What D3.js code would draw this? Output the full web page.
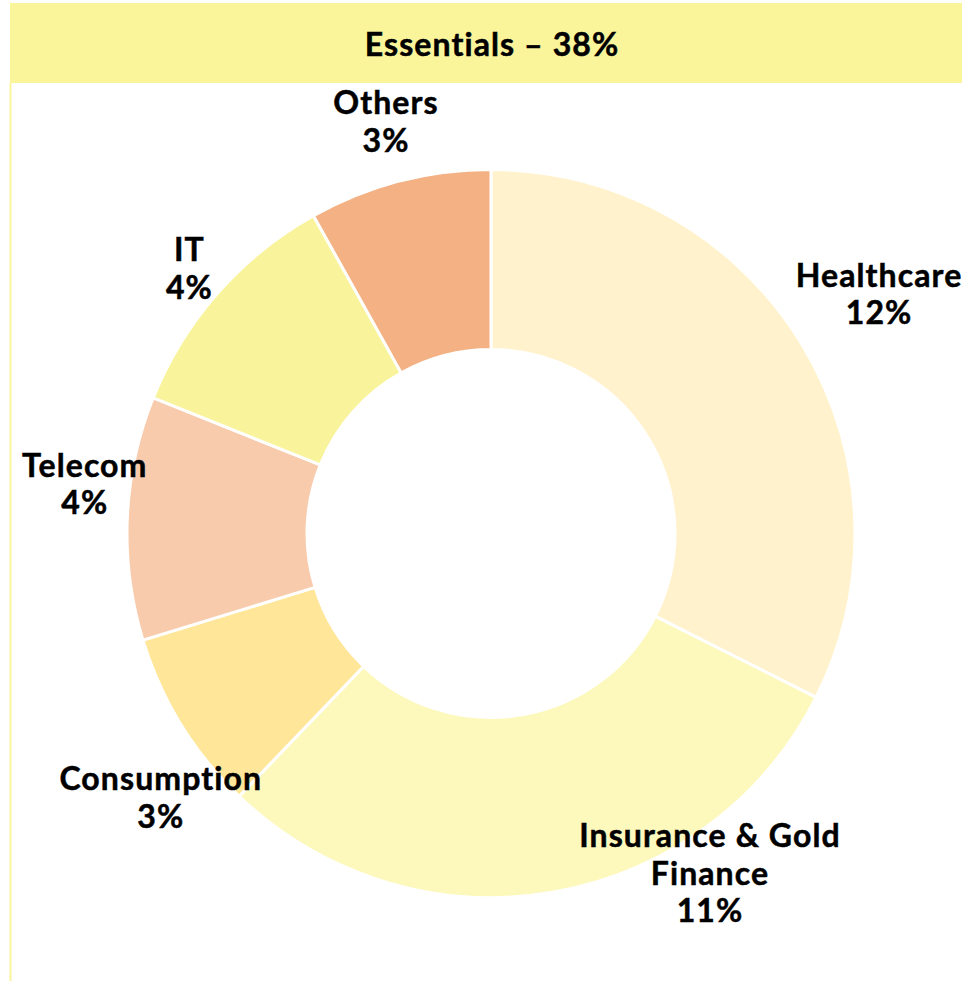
<html>
<head>
  <script src="https://d3js.org/d3.v7.min.js"></script>
  <style>
    body{ margin:0; background:#fff; }
    svg{ display:block; font-family: Lato, "Open Sans", sans-serif; font-weight:700; }
    svg text{ font-size:32px; letter-spacing:1.1px; font-variant-ligatures:none; font-feature-settings:"liga" 0; }
  </style>
</head>
<body>
  <script type="text/javascript">

    // data
    var title = "Essentials – 38%";
    var sectors = ["Healthcare", "Insurance & Gold Finance", "Consumption", "Telecom", "IT", "Others"];
    var labelLines = [["Healthcare", "12%"], ["Insurance & Gold", "Finance", "11%"], ["Consumption", "3%"],
                      ["Telecom", "4%"], ["IT", "4%"], ["Others", "3%"]];
    var shares = [12, 11, 3, 4, 4, 3];
    var colors = ["#FFF2CC", "#FDF8BB", "#FFE699", "#F8CBAD", "#F9F49B", "#F4B183"];

    // label layout (radius from centre, angle nudge in degrees)
    var labelLayout = [{r:450, da:1.2}, {r:414, da:-22.2}, {r:430, da:-8.2},
                       {r:408, da:2.9}, {r:394, da:-1.3}, {r:414, da:-0.1}];

    var screen = {width:962, height:981}
    var svg = d3.select("body").append("svg")
      .attr("width", screen.width)
      .attr("height", screen.height)

    // title band + frame line
    svg.append("rect")
       .attr("x", 10).attr("y", 3)
       .attr("width", screen.width - 10).attr("height", 80)
       .attr("fill", "#FAF59B")
    svg.append("line")
       .attr("x1", 10.5).attr("x2", 10.5)
       .attr("y1", 83).attr("y2", screen.height)
       .attr("stroke", "#FAF59B").attr("stroke-width", 2)
    svg.append("text")
       .attr("x", 492).attr("y", 56)
       .attr("text-anchor", "middle")
       .attr("fill", "#000")
       .attr("stroke", "#000").attr("stroke-width", 0.5)
       .text(title)

    // donut
    var cx = 491, cy = 533.5, outerR = 364, innerR = 184;
    var pie = d3.pie().sort(null).value(function(d){return d})
    var arcs = pie(shares)
    var arc = d3.arc().innerRadius(innerR).outerRadius(outerR)

    var plot = svg.append("g")
      .attr("transform", "translate(" + cx + "," + cy + ")")

    plot.selectAll("path")
        .data(arcs)
        .enter()
        .append("path")
        .attr("d", arc)
        .attr("fill", function(d,i){return colors[i]})
        .attr("stroke", "#fff")
        .attr("stroke-width", 3)

    // labels
    var lineH = 37.5;
    var labels = plot.selectAll("g.lbl")
        .data(arcs)
        .enter()
        .append("g")
        .classed("lbl", true)
        .attr("transform", function(d,i){
          var a = (d.startAngle + d.endAngle)/2 + labelLayout[i].da*Math.PI/180;
          var r = labelLayout[i].r;
          return "translate(" + (r*Math.sin(a)) + "," + (-r*Math.cos(a)) + ")"
        })

    labels.each(function(d,i){
      var lines = labelLines[i];
      d3.select(this).selectAll("text")
        .data(lines)
        .enter()
        .append("text")
        .attr("text-anchor", "middle")
        .attr("y", function(t,j){return (j - (lines.length-1)/2)*lineH})
        .attr("fill", "#000")
        .attr("stroke", "#000").attr("stroke-width", 0.5)
        .text(function(t){return t})
    })

  </script>
</body>
</html>
